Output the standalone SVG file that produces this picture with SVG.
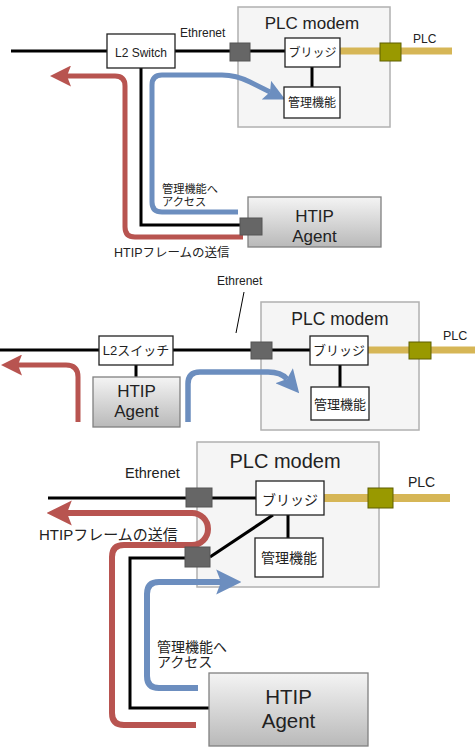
<svg xmlns="http://www.w3.org/2000/svg" width="475" height="752" viewBox="0 0 475 752">
<defs>
<linearGradient id="agentGrad" x1="0" y1="0" x2="0" y2="1">
<stop offset="0" stop-color="#f4f4f4"/>
<stop offset="1" stop-color="#b9b9b9"/>
</linearGradient>
<marker id="ahRed" viewBox="0 0 4.2 4.2" markerWidth="4.2" markerHeight="4.2" refX="0.8" refY="2.1" orient="auto" markerUnits="strokeWidth">
<path d="M0,0 L4.2,2.1 L0,4.2 L0.8,2.1 z" fill="#b85450"/>
</marker>
<marker id="ahBlue" viewBox="0 0 4.2 4.2" markerWidth="4.2" markerHeight="4.2" refX="0.8" refY="2.1" orient="auto" markerUnits="strokeWidth">
<path d="M0,0 L4.2,2.1 L0,4.2 L0.8,2.1 z" fill="#6c8ebf"/>
</marker>
</defs>
<style>
text{font-family:"Liberation Sans","Noto Sans CJK JP",sans-serif;fill:#222}
.modem{fill:#f5f5f5;stroke:#b0b0b0;stroke-width:1.5}
.box{fill:#fff;stroke:#222;stroke-width:1.3}
.agent{fill:url(#agentGrad);stroke:#808080;stroke-width:1.3}
.port{fill:#666;stroke:#555;stroke-width:1}
.olive{fill:#999900;stroke:#5f5f00;stroke-width:1}
.eth{fill:none;stroke:#000;stroke-width:3}
.plc{fill:none;stroke:#d6b656}
.red{fill:none;stroke:#b85450;marker-end:url(#ahRed)}
.blue{fill:none;stroke:#6c8ebf;marker-end:url(#ahBlue)}
.c{text-anchor:middle}
</style>

<!-- Containers -->
<g id="modem1"><rect class="modem" x="238" y="7" width="152" height="120"/><text class="c" x="312" y="29" font-size="17">PLC modem</text></g>
<g id="modem2"><rect class="modem" x="261" y="302" width="158" height="128"/><text class="c" x="340" y="325" font-size="17.5">PLC modem</text></g>
<g id="modem3"><rect class="modem" x="197" y="442" width="182" height="145"/><text class="c" x="285" y="468" font-size="20">PLC modem</text></g>

<!-- Connectors -->
<g id="connectors">
<!-- section 1 -->
<line class="eth" x1="11" y1="51" x2="285" y2="51"/>
<line class="plc" stroke-width="7" x1="340" y1="51" x2="452" y2="51"/>
<line class="eth" x1="312" y1="67" x2="312" y2="87"/>
<path class="eth" d="M141 68 L141 225 L241 225"/>
<path class="red" stroke-width="5" d="M243 237 L135 237 Q125 237 125 227 L125 86 Q125 76 115 76 L67 76"/>
<path class="blue" stroke-width="5" d="M238 212 L162 212 Q152 212 152 202 L152 85 Q152 75 162 75 L222 75 Q236 75 250 82 L270 92"/>
<!-- section 2 -->
<line class="eth" x1="0" y1="350" x2="310" y2="350"/>
<line class="plc" stroke-width="7" x1="368" y1="350" x2="475" y2="350"/>
<line class="eth" x1="340" y1="365" x2="340" y2="387"/>
<line class="eth" x1="136" y1="365" x2="136" y2="377"/>
<line stroke="#000" stroke-width="1" x1="244" y1="292" x2="236" y2="333"/>
<path class="red" stroke-width="5" d="M78 422 L78 377 Q78 365 66 365 L18 365"/>
<path class="blue" stroke-width="5.5" d="M188 422 L188 384 Q188 372 200 372 L268 372 Q281 372 287 379"/>
<!-- section 3 -->
<line class="eth" x1="48" y1="498" x2="256" y2="498"/>
<line class="plc" stroke-width="8" x1="324" y1="498" x2="450" y2="498"/>
<line class="eth" x1="288" y1="515" x2="288" y2="538"/>
<line class="eth" x1="210" y1="557" x2="273" y2="515"/>
<path class="eth" d="M186 558 L130 558 L130 708 L210 708"/>
<path class="red" stroke-width="6" d="M196 725 L124 725 Q112 725 112 713 L112 557 Q112 545 124 545 L192 545 A16 16 0 0 0 208 529 A16 16 0 0 0 192 513 L67 513"/>
<path class="blue" stroke-width="6" d="M198 688 L159 688 Q147 688 147 676 L147 594 Q147 582 159 582 L221 582"/>
</g>

<!-- Section 1 nodes -->
<g id="l2switch1"><rect class="box" x="107" y="34" width="68" height="34"/><text class="c" x="141" y="57" font-size="12">L2 Switch</text></g>
<g id="ethlabel1"><text x="180" y="37" font-size="12">Ethrenet</text></g>
<g id="port1"><rect class="port" x="230" y="43" width="20" height="18"/></g>
<g id="bridge1"><rect class="box" x="285" y="38" width="55" height="29"/><text class="c" x="312.5" y="57" font-size="12">ブリッジ</text></g>
<g id="mgmt1"><rect class="box" x="284" y="87" width="56" height="31"/><text class="c" x="312" y="107" font-size="12">管理機能</text></g>
<g id="olive1"><rect class="olive" x="380" y="43" width="21" height="18"/></g>
<g id="plclabel1"><text x="413" y="43" font-size="12">PLC</text></g>
<g id="agent1"><rect class="agent" x="248" y="197" width="133" height="50"/><text class="c" x="314.5" y="222" font-size="17">HTIP</text><text class="c" x="314.5" y="242" font-size="17">Agent</text></g>
<g id="agentport1"><rect class="port" x="240" y="218" width="22" height="17"/></g>
<g id="access1"><text x="162" y="193" font-size="11.2">管理機能へ</text><text x="162" y="206" font-size="11.2">アクセス</text></g>
<g id="send1"><text x="114" y="257" font-size="12.5">HTIPフレームの送信</text></g>

<!-- Section 2 nodes -->
<g id="ethlabel2"><text x="217" y="285" font-size="12">Ethrenet</text></g>
<g id="l2switch2"><rect class="box" x="99" y="336" width="74" height="29"/><text class="c" x="136" y="355" font-size="13">L2スイッチ</text></g>
<g id="agent2"><rect class="agent" x="93" y="377" width="87" height="50"/><text class="c" x="136.5" y="397" font-size="17">HTIP</text><text class="c" x="136.5" y="417" font-size="17">Agent</text></g>
<g id="port2"><rect class="port" x="251" y="342" width="21" height="17"/></g>
<g id="bridge2"><rect class="box" x="310" y="336" width="58" height="29"/><text class="c" x="339" y="355" font-size="13">ブリッジ</text></g>
<g id="mgmt2"><rect class="box" x="311" y="387" width="58" height="33"/><text class="c" x="340" y="409" font-size="13">管理機能</text></g>
<g id="olive2"><rect class="olive" x="409" y="342" width="22" height="17"/></g>
<g id="plclabel2"><text x="443" y="340" font-size="12.5">PLC</text></g>

<!-- Section 3 nodes -->
<g id="ethlabel3"><text x="125" y="478" font-size="14.5">Ethrenet</text></g>
<g id="port3a"><rect class="port" x="186" y="488" width="26" height="19"/></g>
<g id="port3b"><rect class="port" x="185" y="547" width="25" height="20"/></g>
<g id="bridge3"><rect class="box" x="256" y="481" width="68" height="34"/><text class="c" x="290" y="505" font-size="14">ブリッジ</text></g>
<g id="mgmt3"><rect class="box" x="255" y="538" width="68" height="39"/><text class="c" x="289" y="563" font-size="14">管理機能</text></g>
<g id="olive3"><rect class="olive" x="368" y="488" width="25" height="20"/></g>
<g id="plclabel3"><text x="408" y="487" font-size="14">PLC</text></g>
<g id="agent3"><rect class="agent" x="209" y="673" width="159" height="73"/><text class="c" x="288.5" y="704" font-size="20.5">HTIP</text><text class="c" x="288.5" y="728" font-size="20.5">Agent</text></g>
<g id="send3"><text x="39" y="540" font-size="15">HTIPフレームの送信</text></g>
<g id="access3"><text x="157" y="652" font-size="14">管理機能へ</text><text x="157" y="667" font-size="14">アクセス</text></g>
</svg>
